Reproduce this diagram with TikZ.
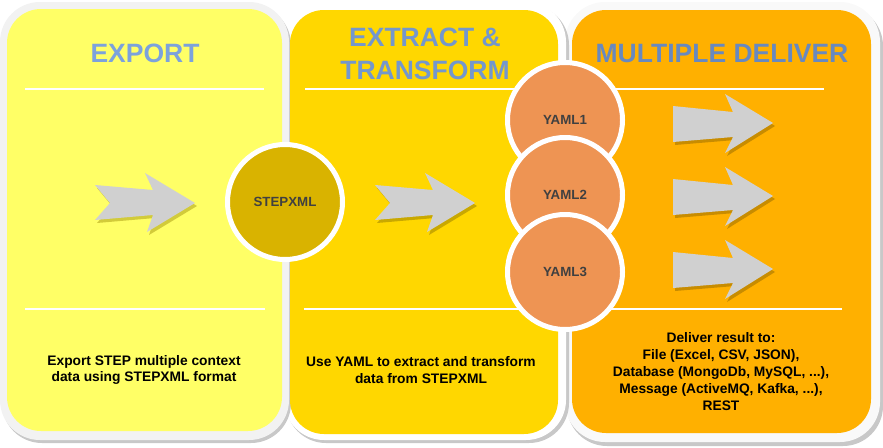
\documentclass[tikz,border=0pt]{standalone}
\usepackage{fontspec}
\setmainfont{Liberation Sans}
\definecolor{exportbg}{HTML}{FFFF66}
\definecolor{extractbg}{HTML}{FFD700}
\definecolor{deliverbg}{HTML}{FFB000}
\definecolor{exportshade}{HTML}{D2CB3A}
\definecolor{extractshade}{HTML}{C9A800}
\definecolor{delivershade}{HTML}{C88C00}
\definecolor{shellgrey}{HTML}{F2F2F2}
\definecolor{shadowgrey}{HTML}{C8C8C8}
\definecolor{stepxmlbg}{HTML}{D9B300}
\definecolor{yamlbg}{HTML}{EE9453}
\definecolor{arrowgrey}{HTML}{D0D0D0}
\definecolor{labelgrey}{HTML}{404040}
\definecolor{titleA}{HTML}{7CA2DC}
\definecolor{titleB}{HTML}{7497CC}
\definecolor{titleC}{HTML}{6889BF}
\newcommand{\notcharrow}[2]{% tip, shadow colour
  \begin{scope}[shift={#1}]
    \fill[#2, shift={(2,3)}] (0,0) -- (-50,-30) -- (-42,-13) -- (-100,-18) -- (-85,0)
      -- (-100,17) -- (-42,12) -- (-48,29) -- cycle;
    \fill[arrowgrey] (0,0) -- (-50,-30) -- (-42,-13) -- (-100,-18) -- (-85,0)
      -- (-100,17) -- (-42,12) -- (-48,29) -- cycle;
  \end{scope}}
\newcommand{\flatarrow}[2]{% tip, shadow colour
  \begin{scope}[shift={#1}]
    \fill[#2, shift={(2,3)}] (0,0) -- (-48,-29) -- (-40,-11) -- (-100,-17)
      -- (-100,19) -- (-40,14) -- (-48,30) -- cycle;
    \fill[arrowgrey] (0,0) -- (-48,-29) -- (-40,-11) -- (-100,-17)
      -- (-100,19) -- (-40,14) -- (-48,30) -- cycle;
  \end{scope}}
\tikzset{
  shell/.style={rounded corners=40pt},
  panel/.style={rounded corners=34pt},
  bubble/.style={circle, draw=white, line width=5pt, minimum size=115pt,
                 inner sep=0pt, text=labelgrey,
                 font=\fontsize{13.3}{16}\selectfont\bfseries},
  title/.style={align=center, font=\fontsize{26.5}{33}\selectfont\bfseries},
  body/.style={align=center, font=\fontsize{13.8}{16.8}\selectfont\bfseries},
  rule/.style={white, line width=2pt},
}
\begin{document}
\begin{tikzpicture}[x=1pt, y=-1pt]
    \useasboundingbox (0,0) rectangle (883,447);
    % shells, back to front
    \fill[shadowgrey, shell] (567,6) rectangle (883,446);
    \fill[shellgrey!50!white, shell] (565,2) rectangle (880,442);
    \fill[shadowgrey, shell] (286,5) rectangle (569,443);
    \fill[white, shell] (284,2) rectangle (566,440);
    \fill[shadowgrey, shell] (2,5) rectangle (291,443);
    \fill[shellgrey, shell] (0,2) rectangle (289,440);
    % panels
    \fill[exportbg, panel] (7,9) rectangle (282,431);
    \fill[extractbg, panel] (290,10) rectangle (558,434);
    \fill[deliverbg, panel] (572,10) rectangle (871,433);
    % titles
    \node[title, text=titleA] (exporttitle) at (145,53.5) {EXPORT};
    \node[title, text=titleB] (extracttitle) at (425,54) {EXTRACT \&\\TRANSFORM};
    \node[title, text=titleC] (delivertitle) at (722,53.5) {MULTIPLE DELIVER};
    % rules
    \draw[rule] (25,89) -- (264,89);
    \draw[rule] (305,89) -- (540,89);
    \draw[rule] (600,89) -- (824,89);
    \draw[rule] (25,309) -- (265,309);
    \draw[rule] (304,309) -- (540,309);
    \draw[rule] (602,309) -- (842,309);
    % arrows
    \notcharrow{(195,203)}{exportshade}
    \notcharrow{(475,203)}{extractshade}
    \flatarrow{(773,123)}{delivershade}
    \flatarrow{(773,196)}{delivershade}
    \flatarrow{(773,269)}{delivershade}
    % circles
    \node[bubble, fill=stepxmlbg] (stepxml) at (285,202) {STEPXML};
    \node[bubble, fill=yamlbg] (yaml1) at (565,120) {YAML1};
    \node[bubble, fill=yamlbg] (yaml2) at (565,195) {YAML2};
    \node[bubble, fill=yamlbg] (yaml3) at (565,272) {YAML3};
    % texts
    \node[body] (exporttext) at (144,370) {Export STEP multiple context\\data using STEPXML format};
    \node[body] (extracttext) at (421,370) {Use YAML to extract and transform\\data from STEPXML};
    \node[body] (delivertext) at (721,371.5) {Deliver result to:\\File (Excel, CSV, JSON),\\Database (MongoDb, MySQL, ...),\\Message (ActiveMQ, Kafka, ...),\\REST};
\end{tikzpicture}
\end{document}
